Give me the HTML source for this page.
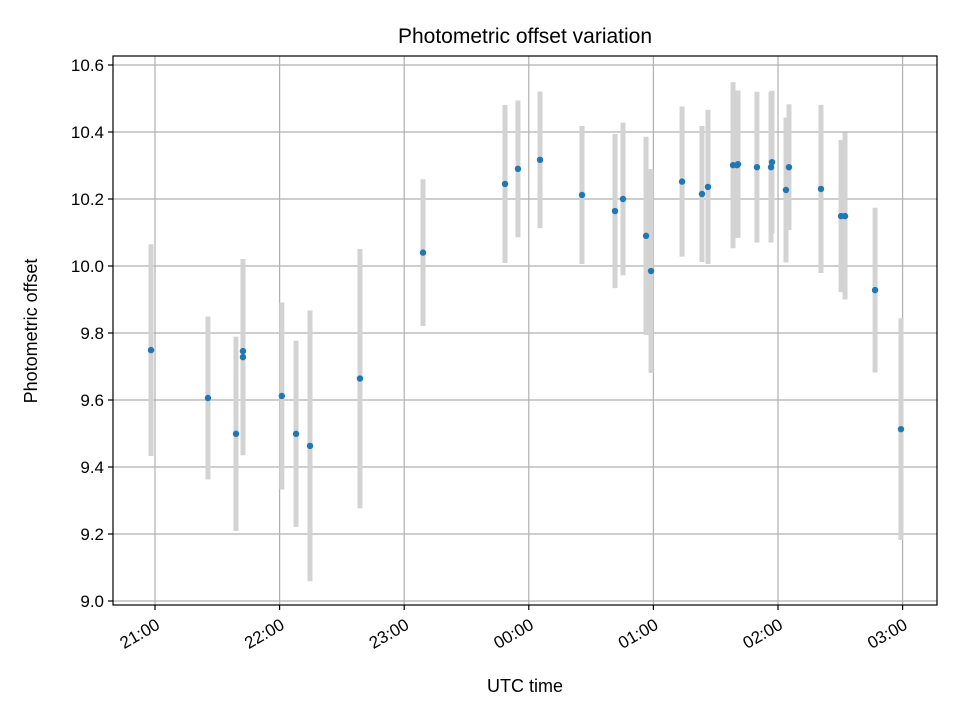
<!DOCTYPE html>
<html><head><meta charset="utf-8"><style>
body{margin:0;background:#fff}
svg text{font-family:"Liberation Sans","DejaVu Sans",sans-serif;fill:#000}
</style></head><body>
<svg id="chart" width="960" height="720" viewBox="0 0 960 720">
<rect width="960" height="720" fill="#fff"/>
<g id="grid"></g>
<g id="bars"></g>
<g id="pts"></g>
<rect x="113" y="56" width="824" height="549" fill="none" stroke="#000" stroke-width="1.2"/>
<g id="xt"></g>
<g id="yt"></g>
<text x="525" y="43" font-size="21" text-anchor="middle">Photometric offset variation</text>
<text x="525" y="692" font-size="18" text-anchor="middle">UTC time</text>
<text transform="translate(37,331) rotate(-90)" font-size="18" text-anchor="middle">Photometric offset</text>
</svg>
<script>
// hours after 21:00 UTC
const times=[-0.032,0.425,0.650,0.706,0.706,1.018,1.132,1.244,1.645,2.151,2.809,2.913,3.090,3.427,3.692,3.756,3.941,3.981,4.230,4.390,4.438,4.639,4.671,4.679,4.831,4.944,4.952,5.064,5.088,5.345,5.506,5.538,5.779,5.987];
const values=[9.749,9.606,9.499,9.746,9.728,9.612,9.499,9.463,9.664,10.040,10.245,10.290,10.317,10.212,10.164,10.200,10.090,9.985,10.252,10.215,10.236,10.301,10.301,10.304,10.295,10.295,10.310,10.227,10.295,10.230,10.149,10.149,9.928,9.513];
const errors=[0.316,0.243,0.290,0.248,0.293,0.279,0.278,0.404,0.387,0.219,0.236,0.204,0.204,0.206,0.230,0.228,0.296,0.304,0.224,0.203,0.230,0.248,0.215,0.22,0.225,0.225,0.213,0.216,0.188,0.251,0.227,0.249,0.246,0.331];
const xTickLabels=["21:00","22:00","23:00","00:00","01:00","02:00","03:00"];
const yTickLabels=["9.0","9.2","9.4","9.6","9.8","10.0","10.2","10.4","10.6"];
const NS="http://www.w3.org/2000/svg";
const X=h=>155+h*124.6;
const Y=v=>65+(10.6-v)*335;
function mk(t,a,p){const e=document.createElementNS(NS,t);for(const k in a)e.setAttribute(k,a[k]);p.appendChild(e);return e;}
const grid=document.getElementById('grid'),xt=document.getElementById('xt'),yt=document.getElementById('yt');
xTickLabels.forEach((l,i)=>{const x=X(i);
 const g=mk('line',{x1:x,x2:x,y1:56,y2:605,stroke:'#b0b0b0','stroke-width':1.2},grid);
 
 
 const t=mk('line',{x1:x,x2:x,y1:605,y2:610,stroke:'#000','stroke-width':1.2},xt);
 
 
 const tx=mk('text',{x:x+6,y:628,'font-size':17,'text-anchor':'end',transform:`rotate(-30 ${x+6} 628)`},xt);
 tx.textContent=l;
 
 
});
yTickLabels.forEach(l=>{const y=Y(parseFloat(l));
 const g=mk('line',{x1:113,x2:937,y1:y,y2:y,stroke:'#b0b0b0','stroke-width':1.2},grid);
 
 
 const t=mk('line',{x1:108,x2:113,y1:y,y2:y,stroke:'#000','stroke-width':1.2},yt);
 
 
 const tx=mk('text',{x:104,y:y+6,'font-size':17,'text-anchor':'end'},yt);
 tx.textContent=l;
 
 
});
const bars=document.getElementById('bars'),pts=document.getElementById('pts');
times.forEach((h,i)=>{const x=X(h),v=values[i],e=errors[i];
 const b=mk('line',{x1:x,x2:x,y1:Y(v+e),y2:Y(v-e),stroke:'#d3d3d3','stroke-width':5},bars);
 
 
 const c=mk('circle',{cx:x,cy:Y(v),r:3.2,fill:'#1f77b4'},pts);
 
 
});
</script>
</body></html>
